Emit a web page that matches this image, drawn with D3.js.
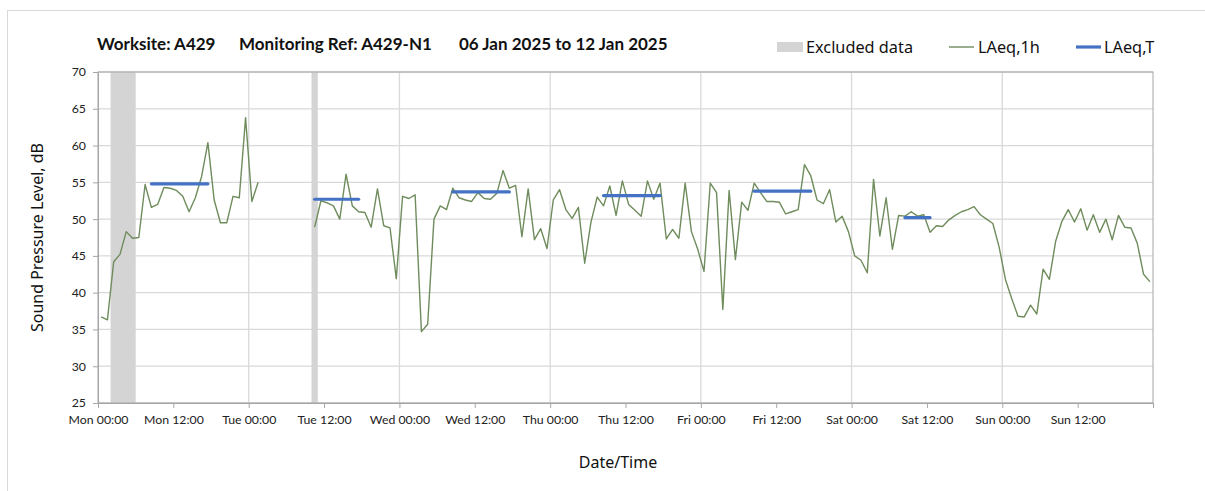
<!DOCTYPE html>
<html>
<head>
<meta charset="utf-8">
<script src="https://cdnjs.cloudflare.com/ajax/libs/d3/7.8.5/d3.min.js"></script>
<style>
  body { margin: 0; background: #fff; }
  svg { display: block; font-family: "Noto Sans", "Open Sans", sans-serif; }
</style>
</head>
<body>
<svg id="chart" width="1205" height="491"></svg>
<script>
// hourly LAeq,1h values, Mon 00:00 .. Sun 23:00 (null = no data)
var laeq1h = [
  36.7, 36.3, 44.2, 45.2, 48.3, 47.4, 47.5, 54.7, 51.6, 52.0, 54.3, 54.2,
  53.9, 53.1, 51.0, 52.9, 55.8, 60.4, 52.6, 49.5, 49.5, 53.1, 52.9, 63.8,
  52.4, 55.0, null, null, null, null, null, null, null, null, 48.9, 52.5,
  52.2, 51.8, 50.0, 56.1, 51.8, 51.0, 50.9, 48.9, 54.1, 49.1, 48.8, 41.9,
  53.1, 52.8, 53.3, 34.7, 35.7, 50.0, 51.8, 51.3, 54.2, 52.9, 52.6, 52.4,
  53.6, 52.8, 52.7, 53.5, 56.6, 54.2, 54.6, 47.6, 54.1, 47.2, 48.7, 46.0,
  52.6, 54.0, 51.3, 50.1, 51.6, 44.0, 49.6, 53.0, 51.8, 54.5, 50.5, 55.2,
  52.0, 51.2, 50.4, 55.2, 52.7, 54.9, 47.3, 48.6, 47.4, 54.9, 48.3, 45.9,
  42.9, 54.9, 53.6, 37.7, 53.9, 44.5, 52.3, 51.2, 54.9, 53.6, 52.4, 52.4,
  52.3, 50.7, 51.0, 51.3, 57.4, 55.9, 52.6, 52.1, 54.0, 49.6, 50.4, 48.3,
  45.0, 44.4, 42.7, 55.4, 47.7, 52.9, 45.9, 50.5, 50.4, 51.0, 50.4, 50.6,
  48.2, 49.1, 49.0, 49.9, 50.5, 51.0, 51.3, 51.7, 50.6, 50.0, 49.4, 46.2,
  41.8, 39.2, 36.8, 36.7, 38.3, 37.1, 43.2, 41.8, 47.0, 49.7, 51.3, 49.6,
  51.4, 48.5, 50.6, 48.2, 50.0, 47.2, 50.5, 48.9, 48.8, 46.7, 42.5, 41.5
];

// LAeq,T periods (first hour, last hour, level)
var periodStart = [8, 34, 56, 80, 104, 128];
var periodEnd   = [17, 41, 65, 89, 113, 132];
var periodLevel = [54.8, 52.7, 53.7, 53.2, 53.8, 50.2];

// excluded data (hour from, hour to)
var excludedStart = [2, 34];
var excludedEnd   = [6, 35];

var days = ["Mon", "Tue", "Wed", "Thu", "Fri", "Sat", "Sun"];
var xTicks = d3.range(0, 169, 12);
var yTicks = d3.range(25, 71, 5);

var svg = d3.select("#chart"),
    margin = {top: 72, right: 52, bottom: 88, left: 98},
    width = +svg.attr("width") - margin.left - margin.right,
    height = +svg.attr("height") - margin.top - margin.bottom;

// outer frame
svg.append("rect")
    .attr("x", 7.5).attr("y", 10.5)
    .attr("width", 1210).attr("height", 500)
    .attr("fill", "#fff")
    .attr("stroke", "#d9d9d9");

var g = svg.append("g").attr("transform", "translate(" + margin.left + "," + margin.top + ")");

var x = d3.scaleLinear().domain([0, 168]).range([0, width]);
var y = d3.scaleLinear().domain([25, 70]).range([height, 0]);

// gridlines
g.append("g")
  .selectAll("line")
  .data(yTicks)
  .enter().append("line")
    .attr("x1", 0).attr("x2", width)
    .attr("y1", d => y(d)).attr("y2", d => y(d))
    .attr("stroke", "#d9d9d9").attr("stroke-width", 1.3);

g.append("g")
  .selectAll("line")
  .data(d3.range(24, 168, 24))
  .enter().append("line")
    .attr("x1", d => x(d)).attr("x2", d => x(d))
    .attr("y1", 0).attr("y2", height)
    .attr("stroke", "#d9d9d9").attr("stroke-width", 1.3);

// excluded bands
g.append("g")
  .selectAll("rect")
  .data(excludedStart)
  .enter().append("rect")
    .attr("x", d => x(d))
    .attr("width", (d, i) => x(excludedEnd[i]) - x(d))
    .attr("y", 0)
    .attr("height", height)
    .attr("fill", "#d4d4d4");

// LAeq,1h line
var line = d3.line()
    .defined(d => d != null)
    .x((d, i) => x(i + 0.5))
    .y(d => y(d));

g.append("path")
    .datum(laeq1h)
    .attr("fill", "none")
    .attr("stroke", "#6f8c5c")
    .attr("stroke-width", 1.4)
    .attr("stroke-linejoin", "round")
    .attr("d", line);

// LAeq,T segments
g.append("g")
  .selectAll("line")
  .data(periodLevel)
  .enter().append("line")
    .attr("x1", (d, i) => x(periodStart[i] + 0.5))
    .attr("x2", (d, i) => x(periodEnd[i] + 0.5))
    .attr("y1", d => y(d)).attr("y2", d => y(d))
    .attr("stroke", "#4472c4")
    .attr("stroke-width", 3.2)
    .attr("stroke-linecap", "round");

// plot border
g.append("rect")
    .attr("width", width).attr("height", height)
    .attr("fill", "none")
    .attr("stroke", "#a6a6a6");

// axes
var xAxis = g.append("g")
    .attr("transform", "translate(0," + height + ")")
    .call(d3.axisBottom(x).tickValues(xTicks).tickSize(5).tickSizeOuter(0)
      .tickFormat(d => d >= 168 ? "" : days[Math.floor(d / 24)] + (d % 24 ? " 12:00" : " 00:00")));

var yAxis = g.append("g")
    .call(d3.axisLeft(y).tickValues(yTicks).tickSize(5).tickSizeOuter(0));

[xAxis, yAxis].forEach(a => {
  a.select(".domain").attr("stroke", "#a6a6a6");
  a.selectAll(".tick line").attr("stroke", "#a6a6a6");
  a.selectAll("text").attr("fill", "#222").style("font-size", "12.3px")
    .style("font-family", "Lato, sans-serif");
});
xAxis.selectAll("text").attr("dy", "1.05em");
yAxis.selectAll("text").attr("x", -12);

// axis titles
svg.append("text")
    .attr("x", 618)
    .attr("y", 468)
    .attr("text-anchor", "middle")
    .style("font-size", "16px")
    .attr("fill", "#111")
    .text("Date/Time");

svg.append("text")
    .attr("transform", "translate(43," + (margin.top + height / 2) + ") rotate(-90)")
    .attr("text-anchor", "middle")
    .style("font-size", "16px")
    .attr("fill", "#111")
    .text("Sound Pressure Level, dB");

// title
var titleParts = [
  {t: "Worksite: A429", x: 97},
  {t: "Monitoring Ref: A429-N1", x: 239},
  {t: "06 Jan 2025 to 12 Jan 2025", x: 459}
];
svg.append("g")
  .selectAll("text")
  .data(titleParts)
  .enter().append("text")
    .attr("x", d => d.x)
    .attr("y", 50)
    .style("font-size", "17px")
    .style("font-weight", "bold")
    .style("font-family", "Lato, sans-serif")
    .attr("fill", "#111")
    .text(d => d.t);

// legend
var legend = svg.append("g").style("font-size", "16.3px").attr("fill", "#111");

legend.append("rect")
    .attr("x", 777).attr("y", 42).attr("width", 26).attr("height", 10)
    .attr("fill", "#d4d4d4");
legend.append("text").attr("x", 806).attr("y", 52.5).text("Excluded data");

legend.append("line")
    .attr("x1", 949).attr("x2", 974).attr("y1", 47).attr("y2", 47)
    .attr("stroke", "#6f8c5c").attr("stroke-width", 1.4);
legend.append("text").attr("x", 978).attr("y", 52.5).text("LAeq,1h");

legend.append("line")
    .attr("x1", 1076).attr("x2", 1101).attr("y1", 47).attr("y2", 47)
    .attr("stroke", "#4472c4").attr("stroke-width", 3.2);
legend.append("text").attr("x", 1104).attr("y", 52.5).text("LAeq,T");
</script>
</body>
</html>
